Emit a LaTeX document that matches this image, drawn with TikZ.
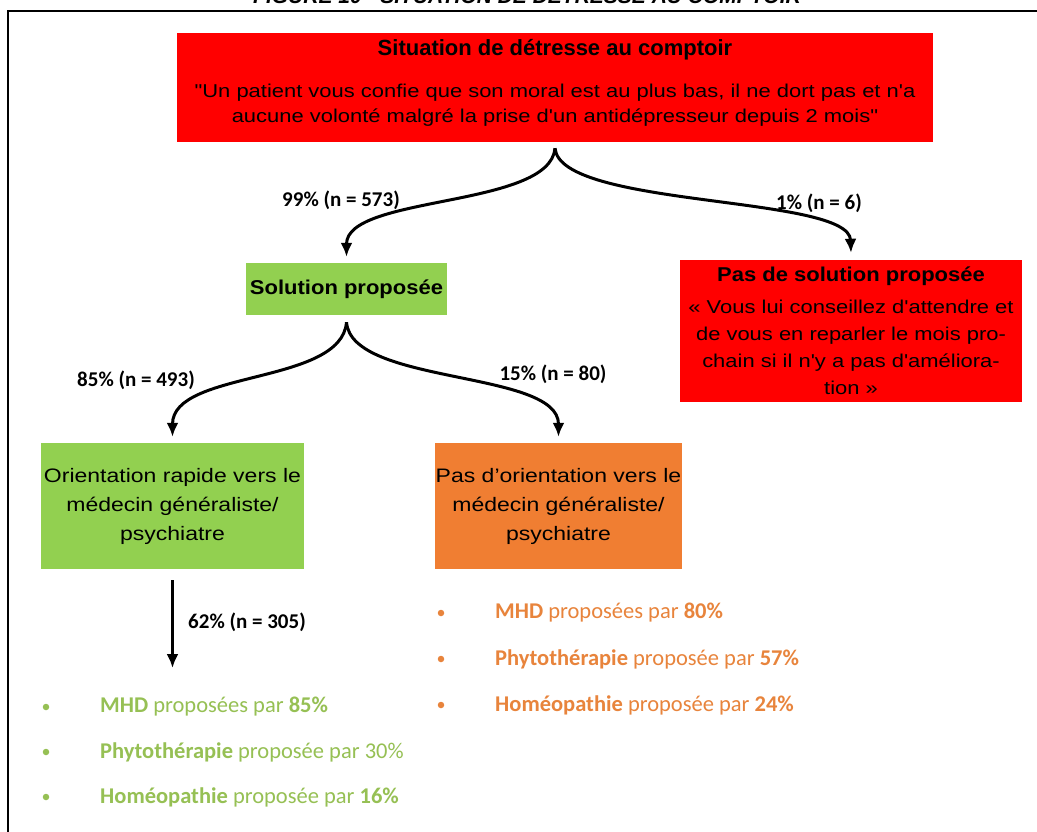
\documentclass[tikz,border=0pt]{standalone}
\usepackage{fontspec}
\setmainfont{Liberation Sans}
\newfontfamily\wfont[FakeStretch=1.18]{Liberation Sans}
\newfontfamily\bwfont[FakeStretch=1.1]{Liberation Sans}
\newfontfamily\calfont{Carlito}
\usetikzlibrary{arrows.meta}
\definecolor{boxred}{HTML}{FF0000}
\definecolor{boxgreen}{HTML}{92D050}
\definecolor{boxorange}{HTML}{F07E32}
\definecolor{txtgreen}{HTML}{96C054}
\definecolor{txtorange}{HTML}{E8843C}
\begin{document}
\begin{tikzpicture}[x=1pt,y=-1pt,
  box/.style={inner sep=0pt, align=center, text=black},
  flow/.style={line width=3pt, -{Latex[length=14pt,width=12pt]}},
  pct/.style={inner sep=0pt, font=\calfont\bfseries\fontsize{21}{25}\selectfont},
  item/.style={anchor=west, inner sep=0pt, font=\calfont\fontsize{22.5}{26}\selectfont},
  dot/.style={circle, inner sep=0pt, minimum size=6.5pt}]
\useasboundingbox (0,0) rectangle (1037,831);
\fill[white] (0,0) rectangle (1037,831);
% caption, cut by the page top as in the reference
\node[anchor=base, inner sep=0pt, font=\bfseries\itshape\fontsize{21}{25}\selectfont] (fig) at (527,3.5) {FIGURE 10 - SITUATION DE DÉTRESSE AU COMPTOIR};
\draw[line width=2pt] (1045,11) -- (8,11) -- (8,840);

% top box
\node[box, fill=boxred, minimum width=756pt, minimum height=109pt] (top) at (555,87.5) {};
\node[box, font=\wfont\fontsize{18.6}{25}\selectfont] (toptext) at (555,83) {{\rmfamily\bfseries\fontsize{22}{25}\selectfont Situation de détresse au comptoir}\\[17pt]
"Un patient vous confie que son moral est au plus bas, il ne dort pas et n'a\\
aucune volonté malgré la prise d'un antidépresseur depuis 2 mois"};

% second level
\node[box, fill=boxgreen, minimum width=201pt, minimum height=52pt, font=\bwfont\bfseries\fontsize{20}{25}\selectfont] (sol) at (346.5,289) {Solution proposée};
\node[box, fill=boxred, minimum width=342pt, minimum height=142pt, font=\wfont\fontsize{18.6}{27}\selectfont] (nosol) at (851,331) {{\bwfont\bfseries\fontsize{20}{27}\selectfont Pas de solution proposée}\\[5pt]
« Vous lui conseillez d'attendre et\\
de vous en reparler le mois pro-\\
chain si il n'y a pas d'améliora-\\
tion »};

% third level
\node[box, fill=boxgreen, minimum width=263pt, minimum height=126pt, font=\wfont\fontsize{19.5}{29}\selectfont] (orient) at (172.5,506) {Orientation rapide vers le\\ médecin généraliste/\\ psychiatre};
\node[box, fill=boxorange, minimum width=247pt, minimum height=126pt, font=\wfont\fontsize{19.5}{29}\selectfont] (noorient) at (558.5,506) {Pas d’orientation vers le\\ médecin généraliste/\\ psychiatre};

% connectors
\draw[flow] ([yshift=-6pt]top.south) .. controls +(-5,60) and +(0,-62) .. ([yshift=6pt]sol.north);
\draw[flow] ([yshift=-6pt]top.south) .. controls +(5,60) and +(-2,-58) .. ([yshift=7pt]nosol.north);
\draw[flow] ([yshift=-7pt]sol.south) .. controls +(-5,63) and +(0,-67) .. ([yshift=6pt]orient.north);
\draw[flow] ([yshift=-7pt]sol.south) .. controls +(5,63) and +(0,-67) .. ([yshift=6pt]noorient.north);
\coordinate (d62) at (172.5,668);
\draw[flow] ([yshift=-11pt]orient.south) -- (d62);

% percentages
\node[pct] (p99) at (341,200) {99\% (n = 573)};
\node[pct] (p1) at (819,203) {1\% (n = 6)};
\node[pct] (p85) at (136,380) {85\% (n = 493)};
\node[pct] (p15) at (553,374) {15\% (n = 80)};
\node[pct] (p62) at (247,622) {62\% (n = 305)};

% green list
\node[dot, fill=txtgreen] (gb1) at (46,707) {};
\node[dot, fill=txtgreen] (gb2) at (46,752) {};
\node[dot, fill=txtgreen] (gb3) at (46,797) {};
\node[item, text=txtgreen] (gt1) at (100,707) {\textbf{MHD} proposées par \textbf{85\%}};
\node[item, text=txtgreen] (gt2) at (100,752) {\textbf{Phytothérapie} proposée par 30\%};
\node[item, text=txtgreen] (gt3) at (100,797) {\textbf{Homéopathie} proposée par \textbf{16\%}};

% orange list
\node[dot, fill=txtorange] (ob1) at (441,613) {};
\node[dot, fill=txtorange] (ob2) at (441,659) {};
\node[dot, fill=txtorange] (ob3) at (441,705) {};
\node[item, text=txtorange] (ot1) at (495,613) {\textbf{MHD} proposées par \textbf{80\%}};
\node[item, text=txtorange] (ot2) at (495,659) {\textbf{Phytothérapie} proposée par \textbf{57\%}};
\node[item, text=txtorange] (ot3) at (495,705) {\textbf{Homéopathie} proposée par \textbf{24\%}};
\end{tikzpicture}
\end{document}
